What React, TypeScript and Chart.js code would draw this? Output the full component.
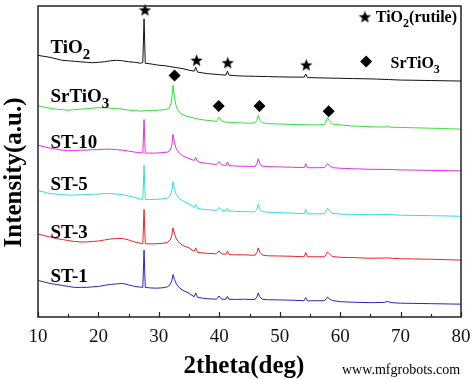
import React, { useEffect, useRef } from 'react';
import { Chart, registerables } from 'chart.js';

Chart.register(...registerables);

type P = [number, number];

const xTickValues = [10, 20, 30, 40, 50, 60, 70, 80];
const seriesNames = ['TiO2', 'SrTiO3', 'ST-10', 'ST-5', 'ST-3', 'ST-1'];
const seriesColors = ['#111111', '#33e033', '#e22ee2', '#33dddd', '#e82424', '#2424c8'];

const tio2: P[] = [
  [10, 265], [11, 264], [12, 263], [13, 261.5], [14, 260], [15, 259.5], [16, 259], [17, 258.5], [18, 258], [19, 257.5],
  [20, 258], [21, 258.5], [22, 259.5], [23, 260], [24, 259.5], [25, 258.5], [26, 258], [27, 257], [27.35, 258],
  [27.55, 302], [27.75, 257], [28.5, 256.5], [29, 256], [30, 255], [31, 254.5], [32, 253.5], [33, 252.5],
  [34, 251.5], [35, 250], [35.85, 249], [36.1, 253], [36.4, 248], [37, 247.5], [38, 246.5], [39, 246],
  [40, 245.5], [41.1, 245], [41.35, 249], [41.6, 245], [42.5, 244.5], [44, 244], [46, 243.8], [48, 243.5],
  [50, 243.2], [52, 243], [54.05, 243], [54.3, 246], [54.6, 242.5], [56, 242.3], [58, 242], [60, 241.8],
  [62, 241.5], [64, 241.3], [66, 241], [68, 240.5], [70, 240], [72, 239.8], [75, 239.5], [78, 239.2], [80, 239],
];

const srtio3: P[] = [
  [10, 214], [11, 212.5], [12, 211.5], [13, 210.5], [14, 210], [15, 209.5], [16, 210], [17, 210.5], [18, 211],
  [19, 211.5], [20, 212], [21, 212], [22, 211.5], [23, 211], [24, 210.5], [25, 209.5], [26, 209], [27, 208.5],
  [28, 209], [29, 209], [30, 209.5], [31, 210], [31.7, 211], [32.0, 216], [32.2, 224], [32.35, 235],
  [32.55, 224], [32.8, 215], [33.1, 210], [33.6, 206], [34.5, 203.5], [35.5, 202], [36.5, 200.5], [37.5, 199.5],
  [38.5, 199], [39.55, 198], [39.95, 202.5], [40.4, 198.5], [41, 197.5], [42, 197], [43, 196.8], [44, 196.5],
  [45, 196.3], [45.9, 196.5], [46.2, 199], [46.45, 204.3], [46.7, 199.5], [47.1, 196.8], [48, 195.8], [50, 195.5],
  [52, 195], [54, 194.8], [56, 194.5], [57.4, 195], [57.7, 198.5], [57.9, 202], [58.2, 199], [58.7, 195.5],
  [60, 194.5], [62, 193.5], [64, 193], [66, 192.5], [67.5, 192.5], [67.85, 193.5], [68.3, 192.3], [70, 192],
  [72, 191.7], [75, 191.2], [77.2, 191], [78, 190.6], [80, 190.3],
];

const st10: P[] = [
  [10, 174], [11, 172.5], [12, 171], [13, 170], [14, 169], [15, 168.5], [16, 168.5], [17, 169], [18, 169],
  [19, 169.5], [20, 169.5], [21, 170], [22, 170], [23, 169.5], [24, 169], [25, 168], [26, 167], [27, 166.5],
  [27.35, 166], [27.55, 200], [27.75, 166], [28.5, 166], [29.5, 166], [30.5, 166.5], [31.4, 167], [31.9, 169],
  [32.15, 174], [32.35, 185], [32.6, 176], [32.9, 170], [33.4, 166], [34, 163], [35, 160.5], [35.85, 158.5],
  [36.1, 161.5], [36.4, 157.5], [37, 156.5], [38, 155.5], [39.55, 154.5], [39.95, 157.5], [40.4, 154],
  [41.1, 153.5], [41.35, 157], [41.6, 153.3], [42.5, 153], [44, 152.7], [45.9, 152.5], [46.2, 155],
  [46.45, 160.3], [46.7, 155.5], [47.1, 152.8], [48, 152.3], [50, 152], [52, 151.7], [54.05, 151.3],
  [54.3, 155.3], [54.6, 151.2], [56, 151.2], [57.4, 151.3], [57.7, 153.5], [57.9, 155.3], [58.2, 153.5],
  [58.7, 151.3], [60, 150.7], [62, 150.2], [65, 149.6], [67.85, 149.5], [70, 149], [72, 148.8], [75, 148.5],
  [78, 148.2], [80, 148],
];

const st5: P[] = [
  [10, 128], [11, 126.5], [12, 125], [13, 124.5], [14, 124], [15, 123.5], [16, 123.5], [17, 123.8], [18, 124],
  [19, 124.3], [20, 124.5], [21, 125], [22, 125], [23, 124.5], [24, 124], [25, 122.5], [26, 121], [27, 119.5],
  [27.35, 119], [27.55, 154], [27.75, 119], [28.5, 119], [29.5, 119.2], [30.5, 119.5], [31.4, 120.5], [31.9, 123],
  [32.15, 128], [32.35, 137], [32.6, 129], [32.9, 124], [33.4, 120], [34, 117.5], [35, 114.5], [35.85, 111],
  [36.1, 114], [36.4, 110], [37, 109.3], [38, 108.7], [39.55, 108], [39.95, 111], [40.4, 108], [41.1, 107.5],
  [41.35, 110.3], [41.6, 107.3], [42.5, 107], [44, 106.7], [45.9, 106.5], [46.2, 109], [46.45, 114.3],
  [46.7, 109.5], [47.1, 106.8], [48, 106.2], [50, 105.7], [52, 105.2], [54.05, 104.6], [54.3, 109], [54.6, 104.4],
  [56, 104.5], [57.4, 104.6], [57.7, 107.5], [57.9, 110.3], [58.2, 108], [58.7, 105], [60, 104.2], [62, 104],
  [65, 103.6], [67.85, 103.8], [70, 103.1], [72, 102.9], [75, 102.6], [78, 102.3], [80, 102],
];

const st3: P[] = [
  [10, 84], [11, 82.5], [12, 81], [13, 79.5], [14, 78.5], [15, 77.5], [16, 76.5], [17, 76], [18, 76],
  [19, 76.5], [20, 77], [21, 78], [22, 79], [23, 79.5], [24, 79.5], [25, 78], [26, 76], [27, 74.6],
  [27.35, 74.3], [27.55, 109], [27.75, 74.3], [28.5, 74], [29.5, 74.2], [30.5, 74.5], [31.4, 75.5], [31.9, 78],
  [32.15, 83], [32.35, 90.3], [32.6, 84], [32.9, 79], [33.4, 75], [34, 72.5], [35, 70], [35.85, 66.5],
  [36.1, 70], [36.4, 65.5], [37, 65], [38, 64.5], [39.55, 64], [39.95, 67], [40.4, 64], [41.1, 63.5],
  [41.35, 67], [41.6, 63.2], [42.5, 63], [44, 63], [45.9, 62.5], [46.2, 65], [46.45, 70], [46.7, 65.5],
  [47.1, 62.8], [48, 62], [50, 61.8], [52, 61.5], [54.05, 61], [54.3, 65.3], [54.6, 61], [56, 61],
  [57.4, 61], [57.7, 63.5], [57.9, 66], [58.2, 64], [58.7, 61.3], [60, 60.5], [62, 60.2], [65, 59.5],
  [67.85, 59.8], [70, 59], [72, 58.8], [75, 58.5], [78, 58], [80, 57.7],
];

const st1: P[] = [
  [10, 37], [11, 35.5], [12, 34], [13, 33], [14, 32], [15, 31], [16, 30], [17, 30], [18, 30], [19, 30.5],
  [20, 31], [21, 32], [22, 33], [23, 33.5], [24, 34], [25, 32.5], [26, 31], [27, 30.2], [27.35, 30],
  [27.55, 67.7], [27.75, 30], [28.5, 29.5], [29.5, 29.2], [30.5, 29.5], [31.4, 30.5], [31.9, 33], [32.15, 37],
  [32.35, 43], [32.6, 38], [32.9, 33.5], [33.4, 29.5], [34, 27], [35, 24], [35.85, 20.5], [36.1, 24.3],
  [36.4, 20], [37, 19.3], [38, 18.5], [39.55, 18], [39.95, 21.3], [40.4, 18], [41.1, 18], [41.35, 21],
  [41.6, 18], [42.5, 17.8], [44, 18], [45.9, 17.7], [46.2, 20], [46.45, 24.3], [46.7, 20.5], [47.1, 18],
  [48, 17.5], [50, 17.3], [52, 17], [54.05, 16.5], [54.3, 19.7], [54.6, 16.3], [56, 16.5], [57.4, 16.5],
  [57.7, 18.5], [57.9, 20.3], [58.2, 18.5], [58.7, 16.7], [60, 15.5], [62, 15], [65, 14.5], [67.3, 14.8],
  [67.85, 15.8], [68.4, 14.6], [70, 14], [72, 13.8], [75, 13.5], [78, 13.2], [80, 13],
];

const seriesData: P[][] = [tio2, srtio3, st10, st5, st3, st1];

const rutileMarks: P[] = [[27.7, 311], [36.25, 260], [41.4, 257.5], [54.4, 255.3]];
const srtio3Marks: P[] = [[32.6, 244.5], [39.9, 213.7], [46.65, 213.7], [58.1, 208.3]];
const legendStarMark: P[] = [[64.1, 304]];
const legendDiamondMark: P[] = [[64.3, 258.7]];

const seriesLabelParts: [string, string][] = [
  ['TiO', '2'], ['SrTiO', '3'], ['ST-10', ''], ['ST-5', ''], ['ST-3', ''], ['ST-1', ''],
];
const legendTexts: [string, string, string][] = [
  ['TiO', '2', '(rutile)'],
  ['SrTiO', '3', ''],
];
const xTitle = '2theta(deg)';
const yTitle = 'Intensity(a.u.)';
const watermark = 'www.mfgrobots.com';

const SERIF = '"Liberation Serif", "Times New Roman", serif';

function makeStar(size: number): HTMLCanvasElement {
  const c = document.createElement('canvas');
  c.width = size;
  c.height = size;
  const g = c.getContext('2d')!;
  const R = size / 2;
  const r = R * 0.42;
  g.beginPath();
  for (let i = 0; i < 10; i++) {
    const a = -Math.PI / 2 + (i * Math.PI) / 5;
    const rad = i % 2 ? r : R;
    g.lineTo(R + rad * Math.cos(a), R + 0.5 + rad * Math.sin(a));
  }
  g.closePath();
  g.fillStyle = '#000';
  g.fill();
  return c;
}

function drawChem(ctx: CanvasRenderingContext2D, main: string, sub: string, tail: string, x: number, y: number, size: number) {
  let cx = x;
  ctx.font = `bold ${size}px ${SERIF}`;
  ctx.fillText(main, cx, y);
  cx += ctx.measureText(main).width;
  if (sub) {
    const ss = Math.round(size * 0.78);
    ctx.font = `bold ${ss}px ${SERIF}`;
    ctx.fillText(sub, cx, y + size * 0.3);
    cx += ctx.measureText(sub).width;
  }
  if (tail) {
    ctx.font = `bold ${size}px ${SERIF}`;
    ctx.fillText(tail, cx, y);
  }
}

const decorPlugin = {
  id: 'decor',
  afterDraw(chart: any) {
    const ctx: CanvasRenderingContext2D = chart.ctx;
    const xs = chart.scales.x;
    const ys = chart.scales.y;
    const a = chart.chartArea;
    ctx.save();
    ctx.fillStyle = '#000';
    ctx.textAlign = 'left';
    ctx.textBaseline = 'alphabetic';

    const labelValues = [267, 217.7, 171, 128.7, 80.3, 35.3];
    seriesLabelParts.forEach(([m, s], i) => {
      drawChem(ctx, m, s, '', xs.getPixelForValue(12.05), ys.getPixelForValue(labelValues[i]), 19);
    });

    drawChem(ctx, legendTexts[0][0], legendTexts[0][1], legendTexts[0][2], xs.getPixelForValue(65.9), ys.getPixelForValue(298.7), 16);
    drawChem(ctx, legendTexts[1][0], legendTexts[1][1], legendTexts[1][2], xs.getPixelForValue(68.35), ys.getPixelForValue(252), 16);

    ctx.strokeStyle = '#222';
    ctx.lineWidth = 1.5;
    ctx.strokeRect(a.left, a.top, a.right - a.left, a.bottom - a.top);

    ctx.lineWidth = 1.2;
    for (let v = 10; v <= 80; v += 5) {
      const px = Math.round(xs.getPixelForValue(v)) + 0.5;
      const len = v % 10 === 0 ? 5 : 3;
      ctx.beginPath();
      ctx.moveTo(px, a.bottom);
      ctx.lineTo(px, a.bottom - len);
      ctx.stroke();
    }

    ctx.font = `bold 25px ${SERIF}`;
    ctx.textAlign = 'center';
    ctx.fillText(xTitle, 244, 373);
    ctx.save();
    ctx.translate(21, 172.5);
    ctx.rotate(-Math.PI / 2);
    ctx.fillText(yTitle, 0, 0);
    ctx.restore();

    ctx.font = `14px ${SERIF}`;
    ctx.textAlign = 'left';
    ctx.fillText(watermark, 342, 374);
    ctx.restore();
  },
};

export default function App() {
  const ref = useRef<HTMLCanvasElement | null>(null);
  useEffect(() => {
    if (!ref.current) return;
    const star = makeStar(13);
    const lineSets = seriesData.map((d, i) => ({
      label: seriesNames[i],
      data: d,
      borderColor: seriesColors[i],
      backgroundColor: seriesColors[i],
      borderWidth: 1,
      pointRadius: 0,
      tension: 0,
      fill: false,
    }));
    const markerSet = (d: P[], style: any, r: number) => ({
      label: 'marker',
      data: d,
      showLine: false,
      pointStyle: style,
      pointRadius: r,
      pointBackgroundColor: '#000',
      pointBorderColor: '#000',
      pointBorderWidth: 0,
      borderWidth: 0,
      clip: false as any,
    });
    const chart = new Chart(ref.current, {
      type: 'line',
      data: {
        datasets: [
          ...lineSets,
          markerSet(rutileMarks, star, 6),
          markerSet(legendStarMark, star, 6),
          markerSet(srtio3Marks, 'rectRot', 6),
          markerSet(legendDiamondMark, 'rectRot', 6),
        ] as any,
      },
      options: {
        animation: false,
        responsive: true,
        maintainAspectRatio: false,
        layout: { padding: { top: 2, right: 11, left: 0, bottom: 0 } },
        plugins: { legend: { display: false }, tooltip: { enabled: false } },
        scales: {
          x: {
            type: 'linear',
            min: 10,
            max: 80,
            grid: { display: false, drawTicks: false },
            border: { display: false },
            ticks: {
              stepSize: 10,
              color: '#111',
              padding: 9,
              font: { family: SERIF, size: 19 },
              callback: (v: any) => (xTickValues.includes(Number(v)) ? String(v) : ''),
            },
            afterFit: (s: any) => {
              s.height = 62;
              s.paddingLeft = 0;
              s.paddingRight = 0;
            },
          },
          y: {
            type: 'linear',
            min: 0,
            max: 315,
            grid: { display: false, drawTicks: false },
            border: { display: false },
            ticks: { display: false },
            afterFit: (s: any) => {
              s.width = 38;
              s.paddingTop = 0;
              s.paddingBottom = 0;
            },
          },
        },
      },
      plugins: [decorPlugin],
    });
    return () => chart.destroy();
  }, []);
  return (
    <div style={{ position: 'fixed', left: 0, top: 0, width: 472, height: 379, background: '#fff' }}>
      <canvas ref={ref} />
    </div>
  );
}
